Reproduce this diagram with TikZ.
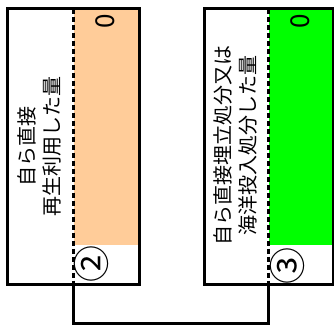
\documentclass[tikz,border=0pt]{standalone}
\usepackage{fontspec}
\setmainfont{Noto Sans CJK JP}
\usetikzlibrary{positioning}
\definecolor{recycle}{RGB}{255,204,153}
\definecolor{landfill}{RGB}{0,255,0}
\tikzset{
  frame/.style={draw, line width=3pt},
  divider/.style={line width=2.5pt, dash pattern=on 5.5pt off 2.5pt},
  vtext/.style={rotate=90, align=center, inner sep=0pt, font=\fontsize{20}{25}\selectfont},
  zero/.style={rotate=90, inner sep=0pt, font=\fontsize{26}{26}\selectfont},
  circnum/.style={rotate=90, inner sep=0pt, font=\fontsize{37}{37}\selectfont},
  link/.style={line width=3pt},
}

\begin{document}
\begin{tikzpicture}[x=1pt, y=-1pt]
  \useasboundingbox (0,0) rectangle (334,325);

  % coloured columns
  \fill[recycle] (73.5,8.5) rectangle (139.5,245);
  \fill[landfill] (268.5,8.5) rectangle (333.5,245);

  % boxes
  \draw[frame] (7.5,8.5) rectangle (139.5,284);
  \draw[frame] (204,8.5) rectangle (333.5,284);

  % dividers
  \coordinate (ltop) at (73.5,8.5);
  \coordinate (lbot) at (73.5,284);
  \coordinate (rtop) at (268.5,8.5);
  \coordinate (rbot) at (268.5,284);
  \draw[divider] (ltop) -- (lbot);
  \draw[divider] (rtop) -- (rbot);

  % texts
  \node[vtext] (ltext) at (39.5,146) {自ら直接\\再生利用した量};
  \node[vtext] (rtext) at (235,145) {自ら直接埋立処分又は\\海洋投入処分した量};
  \node[zero] (lzero) at (105,21) {0};
  \node[zero] (rzero) at (300,21) {0};
  \node[circnum] (lnum) at (91,264) {②};
  \node[circnum] (rnum) at (287,266) {③};

  % connector
  \coordinate (join) at (73.5,323);
  \draw[link] (lbot) -- (join) -| (rbot);
\end{tikzpicture}
\end{document}
